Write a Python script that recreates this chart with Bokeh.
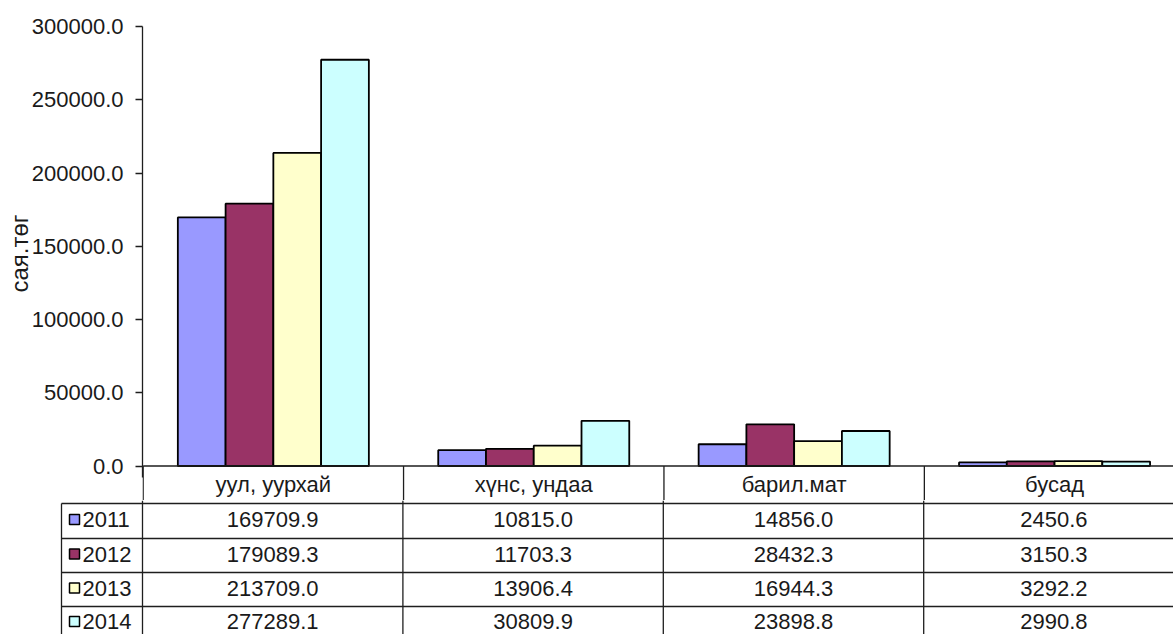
from bokeh.plotting import figure
from bokeh.layouts import column
from bokeh.models import Range1d, FixedTicker, PrintfTickFormatter, ColumnDataSource
from bokeh.core.properties import value
from bokeh.embed import file_html
from bokeh.resources import INLINE

# ---------------- data ----------------
categories = ["уул, уурхай", "хүнс, ундаа", "барил.мат", "бусад"]
years = ["2011", "2012", "2013", "2014"]
v2011 = [169709.9, 10815.0, 14856.0, 2450.6]
v2012 = [179089.3, 11703.3, 28432.3, 3150.3]
v2013 = [213709.0, 13906.4, 16944.3, 3292.2]
v2014 = [277289.1, 30809.9, 23898.8, 2990.8]
series = [v2011, v2012, v2013, v2014]
colors = ["#9999FF", "#993366", "#FFFFCC", "#CCFFFF"]
y_ticks = [0, 50000, 100000, 150000, 200000, 250000, 300000]
y_label = "сая.төг"

# ---------------- layout (pixel geometry) ----------------
W, H = 1173, 634
SPLIT = 500                 # chart figure height (incl. table header); rows below
LEFT, TOP = 142, 26
CAT_PX = 260.4
YMAX = 300000
ZERO = 465.5
PX = YMAX / (ZERO - TOP)    # data units per pixel
X0 = -0.65 / CAT_PX         # keep the x=0 divider fully inside the frame
x_end = (W - LEFT) / CAT_PX + X0
y_start = YMAX - (SPLIT - TOP) * PX

def Y(py):
    return (ZERO - py) * PX

def X(px):
    return (px - LEFT) / CAT_PX

FONT = "Liberation Sans"
FS = "22px"
LINE = "#1e1e1e"
TXT = "#1a1a1a"
LW = 1.3
rows = [ZERO, 503, 538, 572, 606, 640]

# ---------------- chart figure ----------------
p = figure(width=W, height=SPLIT, output_backend="svg", toolbar_location=None,
           x_range=Range1d(X0, x_end), y_range=Range1d(y_start, YMAX),
           x_axis_location=None, min_border_left=LEFT, min_border_top=TOP,
           min_border_right=0, min_border_bottom=0)
p.outline_line_color = None
p.grid.visible = False

ax = p.yaxis[0]
ax.ticker = FixedTicker(ticks=y_ticks, minor_ticks=[])
ax.formatter = PrintfTickFormatter(format="%.1f")
ax.bounds = (Y(477), YMAX)
ax.major_label_text_font = FONT
ax.major_label_text_font_size = FS
ax.major_label_text_color = TXT
ax.major_tick_out = 7
ax.major_tick_in = 0
ax.minor_tick_out = 0
ax.minor_tick_in = 0
ax.major_label_standoff = 12
ax.axis_line_color = LINE
ax.axis_line_width = LW
ax.major_tick_line_color = LINE
ax.major_tick_line_width = LW
# leading no-break spaces nudge the centred (rotated) label up to the plot-area middle
ax.axis_label = "\u00a0\u00a0\u00a0" + y_label
ax.axis_label_text_font = FONT
ax.axis_label_text_font_size = "24px"
ax.axis_label_text_font_style = "normal"
ax.axis_label_text_color = TXT
ax.axis_label_standoff = -4

BW = 0.1834
ncat = len(categories)
for j, vals in enumerate(series):
    xs = [i + 0.5 + (j - 1.5) * BW for i in range(ncat)]
    src = ColumnDataSource(dict(x=xs, top=vals))
    p.vbar(x="x", top="top", bottom=0, width=BW, source=src,
           fill_color=colors[j], line_color="black", line_width=1.8)

# baseline (top of data table) and category dividers in the header strip
p.segment(x0=[0], y0=[0], x1=[x_end], y1=[0], line_color=LINE, line_width=LW)
p.segment(x0=[0, 1, 2, 3], y0=[0] * 4, x1=[0, 1, 2, 3], y1=[y_start] * 4,
          line_color=LINE, line_width=LW)

# header (category names)
hdr_y = Y((rows[0] + rows[1]) / 2)
p.text(x=[i + 0.5 for i in range(ncat)], y=[hdr_y] * ncat, text=categories,
       text_font=value(FONT), text_font_size=FS, text_align="center",
       text_baseline="middle", text_color=TXT)

# ---------------- data table figure ----------------
t = figure(width=W, height=H - SPLIT, output_backend="svg", toolbar_location=None,
           x_range=Range1d(X(0), X(W)), y_range=Range1d(Y(H), Y(SPLIT)),
           x_axis_location=None, y_axis_location=None,
           min_border_left=0, min_border_top=0, min_border_right=0, min_border_bottom=0)
t.outline_line_color = None
t.grid.visible = False
for fig in (p, t):
    try:
        fig.frame_align = False
    except Exception:
        pass

t_left = X(61)
t_right = X(W)
t_bottom = Y(H)
ry = [Y(r) for r in rows[1:5]]
t.segment(x0=[t_left] * 4, y0=ry, x1=[t_right] * 4, y1=ry, line_color=LINE, line_width=LW)
t.segment(x0=[0, 1, 2, 3], y0=[Y(SPLIT)] * 4, x1=[0, 1, 2, 3], y1=[t_bottom] * 4,
          line_color=LINE, line_width=LW)
t.segment(x0=[t_left], y0=[Y(rows[1])], x1=[t_left], y1=[t_bottom], line_color=LINE, line_width=LW)

row_c = [Y((rows[j + 1] + rows[j + 2]) / 2 - 1.5) for j in range(len(years))]
row_c[-1] = Y(621)
for j, vals in enumerate(series):
    t.text(x=[i + 0.5 for i in range(ncat)], y=[row_c[j]] * ncat,
           text=[f"{v:.1f}" for v in vals],
           text_font=value(FONT), text_font_size=FS, text_align="center",
           text_baseline="middle", text_color=TXT)

# legend keys + series names
key_src = ColumnDataSource(dict(x=[X(74)] * len(years), y=row_c, c=colors))
t.rect(x="x", y="y", width=10 / CAT_PX, height=10 * PX, source=key_src,
       fill_color="c", line_color="black", line_width=1.5)
t.text(x=[X(82)] * len(years), y=row_c, text=years,
       text_font=value(FONT), text_font_size=FS, text_align="left",
       text_baseline="middle", text_color=TXT)

layout = column(p, t, spacing=0)
open("out.html", "w").write(file_html(layout, INLINE))
